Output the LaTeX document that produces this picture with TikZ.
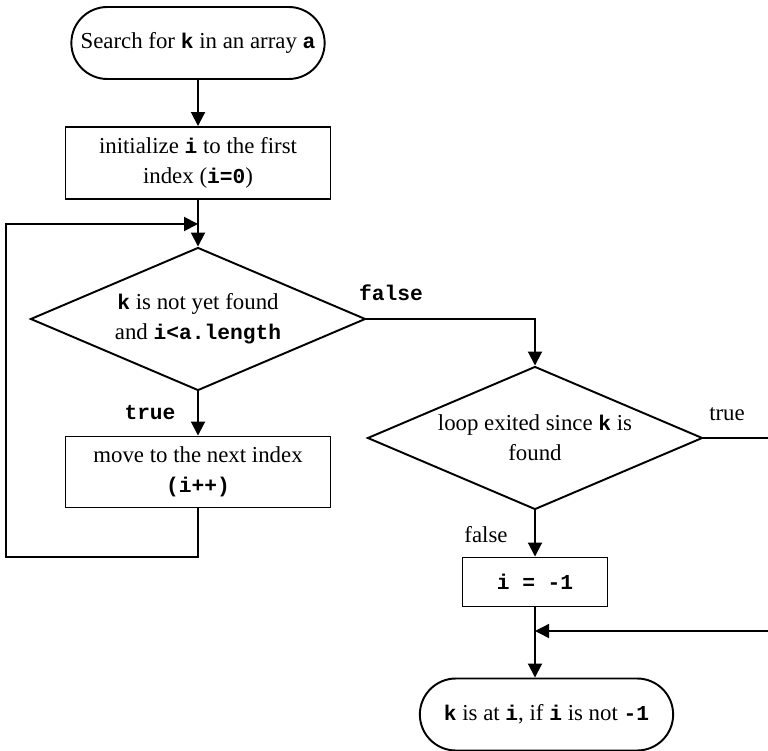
\documentclass[tikz,border=0pt]{standalone}
\usepackage{fontspec}
\setmainfont{Liberation Serif}
\setmonofont[Scale=0.93]{Liberation Mono}
\usetikzlibrary{arrows.meta,shapes.geometric,shapes.misc}
\newcommand{\kw}[1]{\texttt{\bfseries #1}}

\begin{document}
\begin{tikzpicture}[
  font=\fontsize{13}{17}\selectfont,>={Triangle[length=2.8mm,width=2.8mm]},
  terminal/.style={rounded rectangle,draw,line width=1.1pt,minimum width=5.3cm,minimum height=1.44cm,align=center},
  process/.style={rectangle,draw,line width=1.1pt,minimum width=5.3cm,minimum height=1.44cm,align=center},
  decision/.style={diamond,aspect=2.34,draw,line width=1.1pt,minimum width=6.7cm,minimum height=2.86cm,inner sep=0pt,align=center},
  edge/.style={->,line width=1.1pt},
  thinedge/.style={->,line width=.8pt}
]
\useasboundingbox (0,0) rectangle (15.36,-15.02);
% main loop on the left, the check after the loop on the right
\node[terminal] (start) at (3.96,-0.86) {Search for \kw{k} in an array \kw{a}};
\node[process] (init) at (3.96,-3.26) {initialize \kw{i} to the first\\index (\kw{i=0})};
\node[decision] (cond) at (3.96,-6.38) {\kw{k} is not yet found\\and \kw{i<a.length}};
\node[process,minimum height=1.42cm] (next) at (3.96,-9.44) {move to the next index\\\kw{(i++)}};
\node[decision] (found) at (10.7,-8.76) {loop exited since \kw{k} is\\found};
\node[process,minimum width=2.9cm,minimum height=0.98cm] (notfound) at (10.7,-11.64) {\kw{i = -1}};
\node[terminal] (stop) at (10.93,-14.29) {\kw{k} is at \kw{i}, if \kw{i} is not \kw{-1}};
\coordinate (join) at (3.96,-4.48);
\coordinate (loopL) at (0.12,-11.14);
\coordinate (rightR) at (15.4,-8.76);
\coordinate (merge) at (10.7,-12.62);
\draw[edge] (start) -- (init);
\draw[edge] (init) -- (cond);
\draw[edge] (cond) -- (next);
\draw[edge] (next.south) |- (loopL) |- (join);
\draw[edge] (cond.east) -| (found.north);
\draw[edge] (found.south) -- (notfound.north);
\draw[edge] (notfound.south) -- (notfound.south |- stop.north);
\draw[thinedge] (found.east) -- (rightR) |- (merge);
\node (lfalse) at (7.82,-5.86) {\kw{false}};
\node (ltrue) at (3.0,-8.26) {\kw{true}};
\node (ltrue2) at (14.54,-8.28) {true};
\node (lfalse2) at (9.72,-10.7) {false};
\end{tikzpicture}
\end{document}
